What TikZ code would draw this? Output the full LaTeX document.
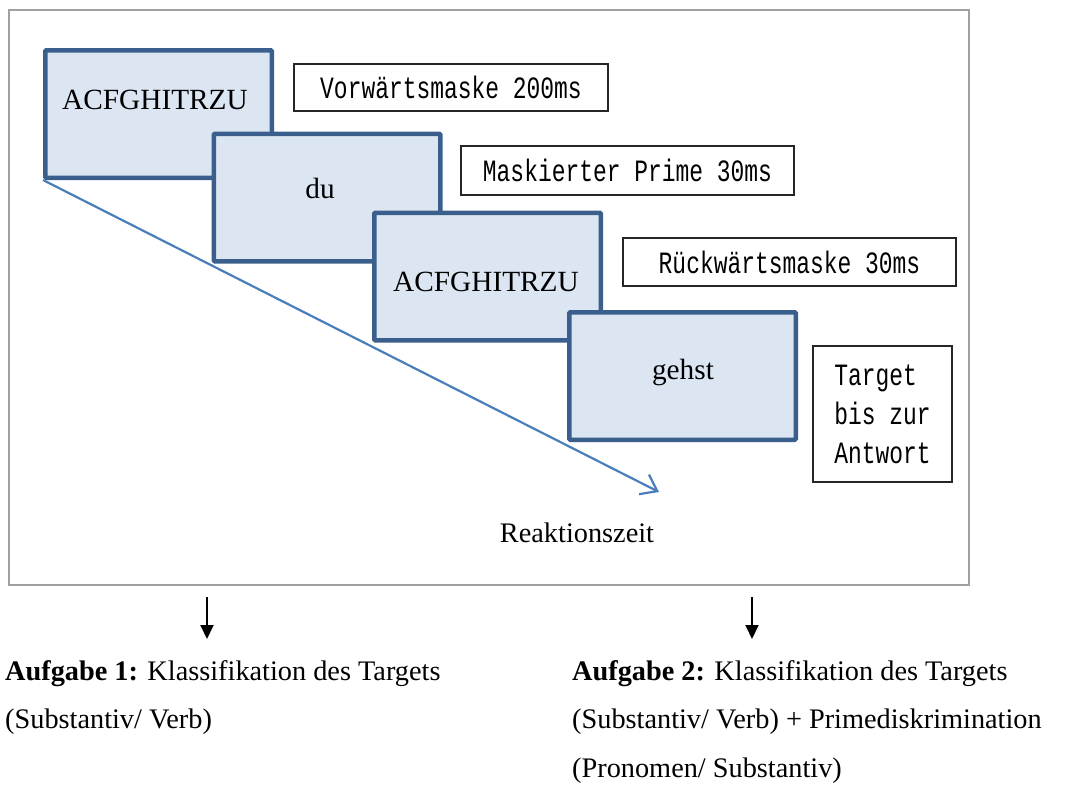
\documentclass[tikz,border=0pt]{standalone}
\usepackage{fontspec}
\setmainfont{Liberation Serif}
\newfontfamily\slabfont[FakeStretch=0.74]{Liberation Mono}
\usetikzlibrary{arrows.meta,backgrounds}
\definecolor{boxfill}{HTML}{DCE6F2}
\definecolor{boxline}{HTML}{3A5F8D}
\definecolor{timeline}{HTML}{4A7EBB}
\definecolor{framegray}{HTML}{A0A0A0}

\begin{document}
\begin{tikzpicture}[x=1pt,y=-1pt,
    screen/.style={draw=boxline,fill=boxfill,line width=4.5pt,rounded corners=1pt,
        minimum width=226.5pt,minimum height=127.5pt,inner sep=0pt},
    word/.style={font=\fontsize{28.3}{34}\selectfont,inner sep=0pt},
    phase/.style={draw=black!85,line width=1.8pt,fill=white,inner sep=0pt,
        font=\slabfont\fontsize{31}{39}\selectfont},
    task/.style={font=\fontsize{28.3}{34}\selectfont,inner sep=0pt,anchor=base west}]
    \useasboundingbox (0,0) rectangle (1066,787);
    % frame
    \draw[framegray,line width=1.5pt] (9,10) rectangle (969,585);

    % screens
    \node[screen] (s1) at (158.5,114) {};
    \node[word,font=\fontsize{29.3}{34}\selectfont] (w1) at (155,100) {ACFGHITRZU};
    \node[screen] (s2) at (327,197.5) {};
    \node[word,font=\fontsize{29.3}{34}\selectfont] (w2) at (320,188) {du};
    \node[screen] (s3) at (487.5,276.5) {};
    \node[word,font=\fontsize{29.3}{34}\selectfont] (w3) at (486,282) {ACFGHITRZU};
    \node[screen] (s4) at (682.5,376) {};
    \node[word,font=\fontsize{29.3}{34}\selectfont] (w4) at (683,372) {gehst};

    % phases
    \node[phase,minimum width=314.5pt,minimum height=47.5pt] (p1) at (451,87.5) {Vorwärtsmaske 200ms};
    \node[phase,minimum width=333.5pt,minimum height=49.5pt] (p2) at (627.5,170.5) {Maskierter Prime 30ms};
    \node[phase,minimum width=333.5pt,minimum height=48.5pt] (p3) at (789.5,262) {Rückwärtsmaske 30ms};
    \node[phase,minimum width=139.5pt,minimum height=136.5pt,align=left] (p4) at (882.5,414) {Target\\bis zur\\Antwort};

    % time axis
    \coordinate (rt) at (659,492);
    \begin{scope}[on background layer]
        \draw[timeline,line width=2.2pt,-{Straight Barb[length=15pt,width=22pt]}] (s1.south west) -- (rt);
    \end{scope}
    \node[word] (rz) at (577,533) {Reaktionszeit};

    % tasks
    \coordinate (d1) at (207,597);
    \coordinate (d1e) at (207,639);
    \coordinate (d2) at (752,597);
    \coordinate (d2e) at (752,639);
    \draw[line width=2pt,-{Triangle[length=14pt,width=13pt]}] (d1) -- (d1e);
    \draw[line width=2pt,-{Triangle[length=14pt,width=13pt]}] (d2) -- (d2e);
    \node[task] (t1) at (5,680) {\textbf{Aufgabe 1:} Klassifikation des Targets};
    \node[task] (t1b) at (5,728) {(Substantiv/ Verb)};
    \node[task] (t2) at (572,680) {\textbf{Aufgabe 2:} Klassifikation des Targets};
    \node[task] (t2b) at (572,728) {(Substantiv/ Verb) + Primediskrimination};
    \node[task] (t2c) at (572,777) {(Pronomen/ Substantiv)};
\end{tikzpicture}
\end{document}
